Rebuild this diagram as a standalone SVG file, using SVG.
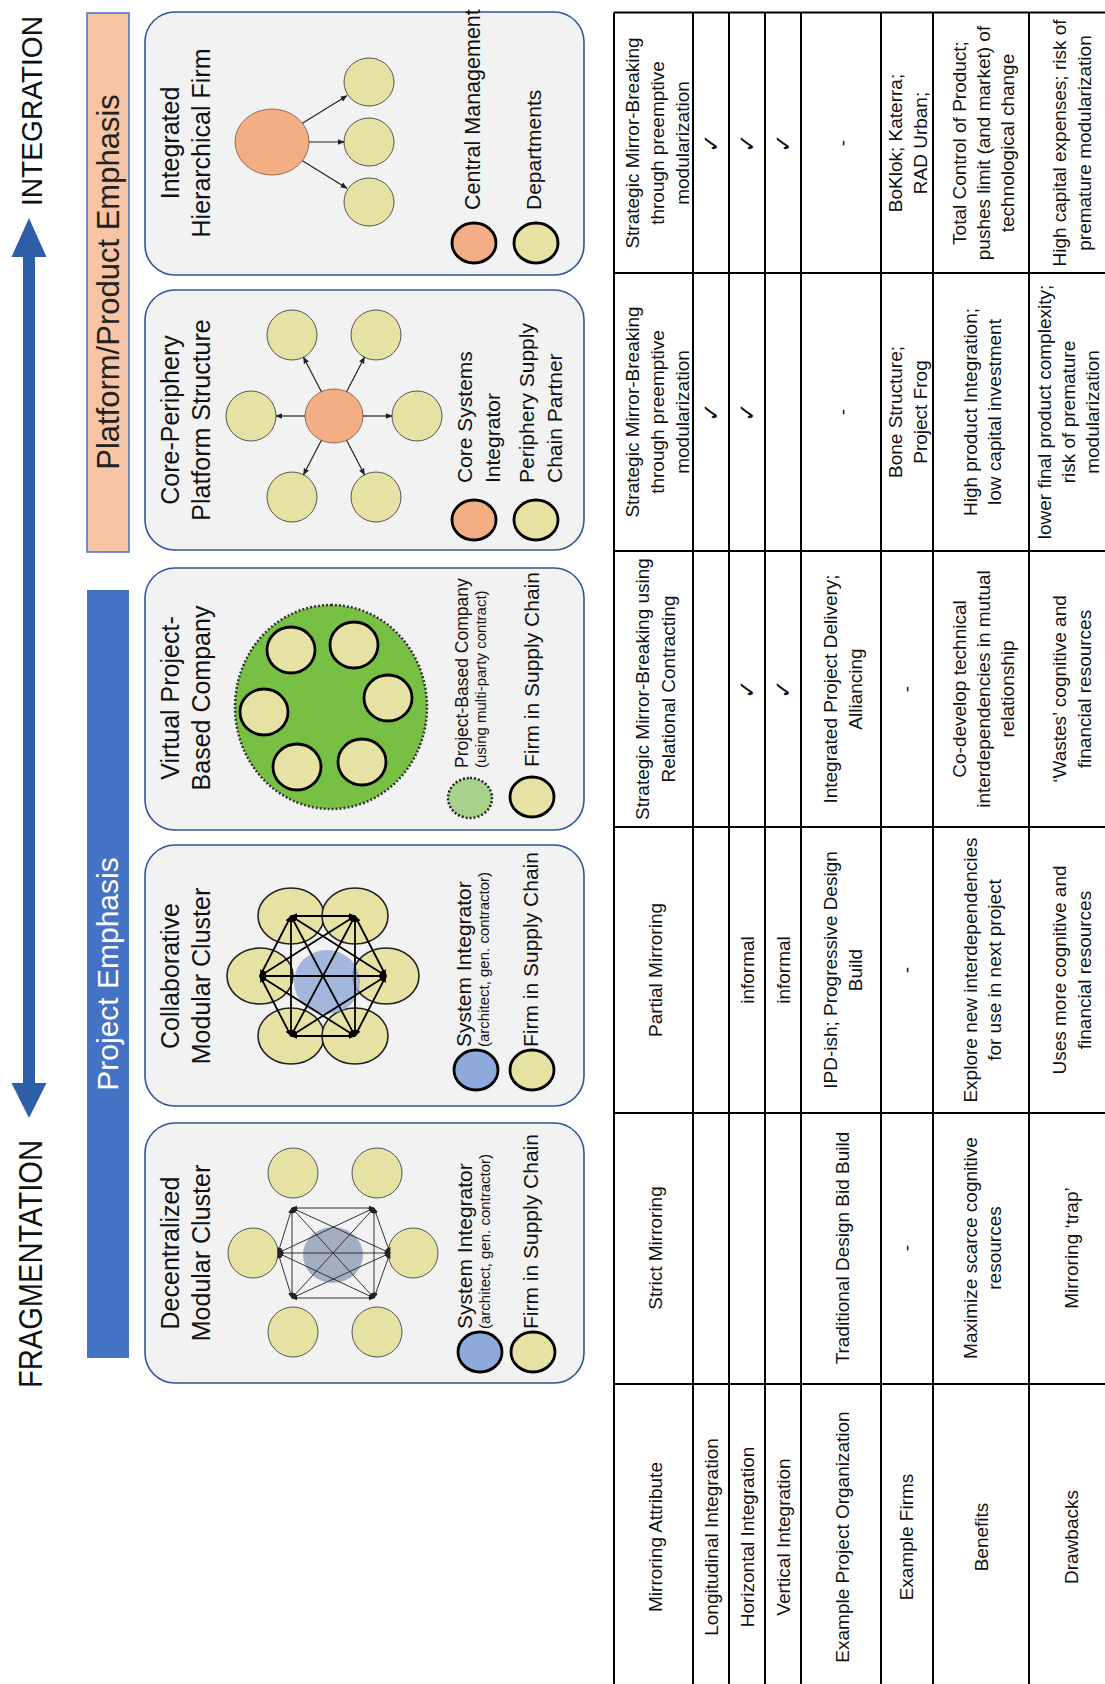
<svg xmlns="http://www.w3.org/2000/svg" width="1105" height="1684" viewBox="0 0 1105 1684">
<defs>
<style>
.t{font-family:"Liberation Sans",Arial,sans-serif;fill:#111}
.title{font-size:25px;text-anchor:middle}
.leg{font-size:21px}
.legs{font-size:15px}
.cell{font-size:19px;text-anchor:middle;font-family:"Liberation Sans",Arial,sans-serif;fill:#111}
.chk{font-size:23px;text-anchor:middle;font-family:"DejaVu Sans",sans-serif;fill:#111}
.card{fill:#F2F2F2;stroke:#2F5597;stroke-width:1.6}
.yel{fill:#E6E2A4;stroke:#555;stroke-width:1}
.yelb{fill:#E6E2A4;stroke:#222;stroke-width:1.6}
.yelk{fill:#E6E2A4;stroke:#000;stroke-width:2.8}
.org{fill:#F4AE85;stroke:#9a6a50;stroke-width:1}
.orgk{fill:#F4AE85;stroke:#000;stroke-width:2.8}
.bluk{fill:#8EA9DB;stroke:#000;stroke-width:2.8}
.arr{stroke:#222;stroke-width:1.2;fill:none;marker-end:url(#ah)}
.k4{stroke:#000;stroke-width:1.8;fill:none;marker-start:url(#ak);marker-end:url(#ak)}
.k5{stroke:#333;stroke-width:1;fill:none;marker-start:url(#ak5);marker-end:url(#ak5)}
.grid{stroke:#000;stroke-width:2;fill:none}
</style>
<marker id="ah" viewBox="0 0 10 10" refX="9" refY="5" markerWidth="7" markerHeight="7" markerUnits="userSpaceOnUse" orient="auto-start-reverse"><path d="M0,1 L10,5 L0,9 z" fill="#222"/></marker>
<marker id="ak" viewBox="0 0 10 10" refX="9" refY="5" markerWidth="7" markerHeight="7" markerUnits="userSpaceOnUse" orient="auto-start-reverse"><path d="M0,1 L10,5 L0,9 z" fill="#000"/></marker>
<marker id="ak5" viewBox="0 0 10 10" refX="9" refY="5" markerWidth="6" markerHeight="6" markerUnits="userSpaceOnUse" orient="auto-start-reverse"><path d="M0,1 L10,5 L0,9 z" fill="#222"/></marker>
</defs>
<rect width="1105" height="1684" fill="#fff"/>
<g transform="translate(0,1684) rotate(-90)">

<!-- header -->
<g id="axis">
<text class="t" x="296" y="42" font-size="33" textLength="248" lengthAdjust="spacingAndGlyphs">FRAGMENTATION</text>
<text class="t" x="1478" y="42" font-size="29" textLength="190" lengthAdjust="spacingAndGlyphs">INTEGRATION</text>
<g fill="#2F5EA8">
<rect x="600" y="23" width="828" height="12"/>
<polygon points="566,29 601,11.5 601,46.5"/>
<polygon points="1466,29 1427,11.5 1427,46.5"/>
</g>
</g>

<g id="bar-project">
<rect x="326" y="87" width="768" height="42" fill="#4472C4"/>
<text class="t" x="710" y="118" font-size="30" text-anchor="middle" style="fill:#fff">Project Emphasis</text>
</g>
<g id="bar-platform">
<rect x="1132" y="87" width="539" height="42" fill="#F7C4A5" stroke="#4472C4" stroke-width="1.5"/>
<text class="t" x="1402" y="119" font-size="31" text-anchor="middle" style="fill:#222">Platform/Product Emphasis</text>
</g>

<!-- card 5: Decentralized -->
<g id="card-decentralized">
<rect class="card" x="301" y="145" width="260" height="439" rx="30"/>
<text class="t title" x="431" y="179">Decentralized</text>
<text class="t title" x="431" y="210">Modular Cluster</text>
<ellipse cx="429" cy="333" rx="28" ry="30" fill="#8E9CB6" opacity="0.8"/>
<ellipse class="yel" cx="511" cy="293" rx="25" ry="25"/>
<ellipse class="yel" cx="511" cy="377" rx="25" ry="25"/>
<ellipse class="yel" cx="431" cy="253" rx="25" ry="25"/>
<ellipse class="yel" cx="431" cy="413" rx="25" ry="25"/>
<ellipse class="yel" cx="352" cy="293" rx="25" ry="25"/>
<ellipse class="yel" cx="352" cy="377" rx="25" ry="25"/>
<ellipse class="bluk" cx="332" cy="480" rx="20" ry="22"/>
<ellipse class="yelk" cx="332" cy="533" rx="20" ry="22"/>
<text class="t leg" x="355" y="472">System Integrator</text>
<text class="t legs" x="355" y="490">(architect, gen. contractor)</text>
<text class="t leg" x="355" y="538">Firm in Supply Chain</text>
</g>

<!-- card 4: Collaborative -->
<g id="card-collaborative">
<rect class="card" x="578" y="145" width="261" height="439" rx="30"/>
<text class="t title" x="708" y="179">Collaborative</text>
<text class="t title" x="708" y="210">Modular Cluster</text>
<ellipse class="yelb" cx="768" cy="291" rx="28" ry="33"/>
<ellipse class="yelb" cx="768" cy="355" rx="28" ry="33"/>
<ellipse class="yelb" cx="648" cy="291" rx="28" ry="33"/>
<ellipse class="yelb" cx="648" cy="355" rx="28" ry="33"/>
<ellipse class="yelb" cx="708" cy="260" rx="28" ry="33"/>
<ellipse class="yelb" cx="708" cy="386" rx="28" ry="33"/>
<ellipse cx="702" cy="327" rx="32" ry="33" fill="#8EA6D6" opacity="0.8"/>
<ellipse class="bluk" cx="614" cy="476" rx="20" ry="22"/>
<ellipse class="yelk" cx="614" cy="532" rx="20" ry="22"/>
<text class="t leg" x="637" y="471">System Integrator</text>
<text class="t legs" x="637" y="489">(architect, gen. contractor)</text>
<text class="t leg" x="637" y="538">Firm in Supply Chain</text>
</g>

<!-- card 3: Virtual -->
<g id="card-virtual">
<rect class="card" x="854" y="145" width="262" height="439" rx="30"/>
<text class="t title" x="986" y="179">Virtual Project-</text>
<text class="t title" x="986" y="210">Based Company</text>
<ellipse cx="977" cy="331" rx="102" ry="96" fill="#78C043" stroke="#333" stroke-width="2.5" stroke-dasharray="2 2"/>
<ellipse class="yelk" cx="1034" cy="291" rx="23" ry="24"/>
<ellipse class="yelk" cx="1039" cy="354" rx="23" ry="24"/>
<ellipse class="yelk" cx="972" cy="264" rx="23" ry="24"/>
<ellipse class="yelk" cx="986" cy="388" rx="23" ry="24"/>
<ellipse class="yelk" cx="917" cy="297" rx="23" ry="24"/>
<ellipse class="yelk" cx="922" cy="362" rx="23" ry="24"/>
<ellipse cx="886" cy="470" rx="20" ry="22" fill="#A9D18E" stroke="#222" stroke-width="2.5" stroke-dasharray="2 2"/>
<ellipse class="yelk" cx="887" cy="532" rx="20" ry="22"/>
<text class="t" x="916" y="468" font-size="17.5">Project-Based Company</text>
<text class="t" x="916" y="486" font-size="15">(using multi-party contract)</text>
<text class="t leg" x="917" y="539">Firm in Supply Chain</text>
</g>

<!-- card 2: Core-Periphery -->
<g id="card-coreperiphery">
<rect class="card" x="1134" y="145" width="260" height="439" rx="30"/>
<text class="t title" x="1264" y="179">Core-Periphery</text>
<text class="t title" x="1264" y="210">Platform Structure</text>
<ellipse class="org" cx="1268" cy="334" rx="27" ry="29"/>
<ellipse class="yel" cx="1268" cy="251" rx="25" ry="25"/>
<ellipse class="yel" cx="1268" cy="417" rx="25" ry="25"/>
<ellipse class="yel" cx="1349" cy="292" rx="25" ry="25"/>
<ellipse class="yel" cx="1349" cy="376" rx="25" ry="25"/>
<ellipse class="yel" cx="1187" cy="292" rx="25" ry="25"/>
<ellipse class="yel" cx="1187" cy="376" rx="25" ry="25"/>
<ellipse class="orgk" cx="1164" cy="474" rx="20" ry="22"/>
<ellipse class="yelk" cx="1164" cy="536" rx="20" ry="22"/>
<text class="t leg" x="1201" y="472">Core Systems</text>
<text class="t leg" x="1201" y="500">Integrator</text>
<text class="t leg" x="1201" y="534">Periphery Supply</text>
<text class="t leg" x="1201" y="562">Chain Partner</text>
</g>

<!-- card 1: Integrated -->
<g id="card-integrated">
<rect class="card" x="1409" y="145" width="263" height="439" rx="30"/>
<text class="t title" x="1541" y="179">Integrated</text>
<text class="t title" x="1541" y="210">Hierarchical Firm</text>
<ellipse class="org" cx="1542" cy="272" rx="33" ry="37"/>
<ellipse class="yel" cx="1602" cy="369" rx="24" ry="25"/>
<ellipse class="yel" cx="1542" cy="369" rx="24" ry="25"/>
<ellipse class="yel" cx="1482" cy="369" rx="24" ry="25"/>
<ellipse class="orgk" cx="1441" cy="474" rx="20" ry="22"/>
<ellipse class="yelk" cx="1441" cy="536" rx="20" ry="22"/>
<text class="t" x="1474" y="480" font-size="21.5">Central Management</text>
<text class="t leg" x="1474" y="541">Departments</text>
</g>

<!-- connectors -->
<g id="connectors">
<line class="arr" x1="1560.8" y1="302.4" x2="1588.3" y2="346.9"/>
<line class="arr" x1="1542" y1="309" x2="1542" y2="344"/>
<line class="arr" x1="1523.2" y1="302.4" x2="1495.7" y2="346.9"/>
<line class="arr" x1="1268" y1="305" x2="1268" y2="276"/>
<line class="arr" x1="1268" y1="363" x2="1268" y2="392"/>
<line class="arr" x1="1292.3" y1="321.4" x2="1326.8" y2="303.5"/>
<line class="arr" x1="1292.3" y1="346.6" x2="1326.8" y2="364.5"/>
<line class="arr" x1="1243.7" y1="321.4" x2="1209.2" y2="303.5"/>
<line class="arr" x1="1243.7" y1="346.6" x2="1209.2" y2="364.5"/>
<g>
<line class="k4" x1="768" y1="291" x2="768" y2="355"/>
<line class="k4" x1="768" y1="291" x2="708" y2="260"/>
<line class="k4" x1="768" y1="291" x2="708" y2="386"/>
<line class="k4" x1="768" y1="291" x2="648" y2="291"/>
<line class="k4" x1="768" y1="291" x2="648" y2="355"/>
<line class="k4" x1="768" y1="355" x2="708" y2="260"/>
<line class="k4" x1="768" y1="355" x2="708" y2="386"/>
<line class="k4" x1="768" y1="355" x2="648" y2="291"/>
<line class="k4" x1="768" y1="355" x2="648" y2="355"/>
<line class="k4" x1="708" y1="260" x2="708" y2="386"/>
<line class="k4" x1="708" y1="260" x2="648" y2="291"/>
<line class="k4" x1="708" y1="260" x2="648" y2="355"/>
<line class="k4" x1="708" y1="386" x2="648" y2="291"/>
<line class="k4" x1="708" y1="386" x2="648" y2="355"/>
<line class="k4" x1="648" y1="291" x2="648" y2="355"/>
</g>
<g>
<line class="k5" x1="476" y1="292" x2="476" y2="374"/>
<line class="k5" x1="476" y1="292" x2="431" y2="278"/>
<line class="k5" x1="476" y1="292" x2="431" y2="390"/>
<line class="k5" x1="476" y1="292" x2="386" y2="292"/>
<line class="k5" x1="476" y1="292" x2="386" y2="374"/>
<line class="k5" x1="476" y1="374" x2="431" y2="278"/>
<line class="k5" x1="476" y1="374" x2="431" y2="390"/>
<line class="k5" x1="476" y1="374" x2="386" y2="292"/>
<line class="k5" x1="476" y1="374" x2="386" y2="374"/>
<line class="k5" x1="431" y1="278" x2="431" y2="390"/>
<line class="k5" x1="431" y1="278" x2="386" y2="292"/>
<line class="k5" x1="431" y1="278" x2="386" y2="374"/>
<line class="k5" x1="431" y1="390" x2="386" y2="292"/>
<line class="k5" x1="431" y1="390" x2="386" y2="374"/>
<line class="k5" x1="386" y1="292" x2="386" y2="374"/>
</g>
</g>

<!-- table -->
<g id="table">
<rect x="0" y="614" width="1671.5" height="496" fill="#fff"/>
<g class="grid">
<line x1="-10" y1="614" x2="1671.5" y2="614"/>
<line x1="-10" y1="693" x2="1671.5" y2="693"/>
<line x1="-10" y1="729" x2="1671.5" y2="729"/>
<line x1="-10" y1="765" x2="1671.5" y2="765"/>
<line x1="-10" y1="801" x2="1671.5" y2="801"/>
<line x1="-10" y1="881" x2="1671.5" y2="881"/>
<line x1="-10" y1="933" x2="1671.5" y2="933"/>
<line x1="-10" y1="1029" x2="1671.5" y2="1029"/>
<line x1="-10" y1="1110" x2="1671.5" y2="1110"/>
<line x1="1671.5" y1="614" x2="1671.5" y2="1110"/>
<line x1="1411" y1="614" x2="1411" y2="1110"/>
<line x1="1133" y1="614" x2="1133" y2="1110"/>
<line x1="857" y1="614" x2="857" y2="1110"/>
<line x1="571" y1="614" x2="571" y2="1110"/>
<line x1="300" y1="614" x2="300" y2="1110"/>
</g>
<!-- row 1 -->
<text class="cell" x="147" y="662">Mirroring Attribute</text>
<text class="cell" x="436" y="662">Strict Mirroring</text>
<text class="cell" x="714" y="662">Partial Mirroring</text>
<text class="cell" x="995" y="649">Strategic Mirror-Breaking using</text>
<text class="cell" x="995" y="675">Relational Contracting</text>
<text class="cell" x="1272" y="639">Strategic Mirror-Breaking</text>
<text class="cell" x="1272" y="664">through preemptive</text>
<text class="cell" x="1272" y="689">modularization</text>
<text class="cell" x="1541" y="639">Strategic Mirror-Breaking</text>
<text class="cell" x="1541" y="664">through preemptive</text>
<text class="cell" x="1541" y="689">modularization</text>
<!-- row 2 -->
<text class="cell" x="147" y="718">Longitudinal Integration</text>
<text class="chk" x="1272" y="719">✓</text>
<text class="chk" x="1541" y="719">✓</text>
<!-- row 3 -->
<text class="cell" x="147" y="754">Horizontal Integration</text>
<text class="cell" x="714" y="754">informal</text>
<text class="chk" x="995" y="755">✓</text>
<text class="chk" x="1272" y="755">✓</text>
<text class="chk" x="1541" y="755">✓</text>
<!-- row 4 -->
<text class="cell" x="147" y="790">Vertical Integration</text>
<text class="cell" x="714" y="790">informal</text>
<text class="chk" x="995" y="791">✓</text>
<text class="chk" x="1541" y="791">✓</text>
<!-- row 5 -->
<text class="cell" x="147" y="849">Example Project Organization</text>
<text class="cell" x="436" y="849">Traditional Design Bid Build</text>
<text class="cell" x="714" y="837">IPD-ish; Progressive Design</text>
<text class="cell" x="714" y="862">Build</text>
<text class="cell" x="995" y="837">Integrated Project Delivery;</text>
<text class="cell" x="995" y="862">Alliancing</text>
<text class="cell" x="1272" y="849">-</text>
<text class="cell" x="1541" y="849">-</text>
<!-- row 6 -->
<text class="cell" x="147" y="913">Example Firms</text>
<text class="cell" x="436" y="913">-</text>
<text class="cell" x="714" y="913">-</text>
<text class="cell" x="995" y="913">-</text>
<text class="cell" x="1272" y="902">Bone Structure;</text>
<text class="cell" x="1272" y="927">Project Frog</text>
<text class="cell" x="1541" y="902">BoKlok; Katerra;</text>
<text class="cell" x="1541" y="927">RAD Urban;</text>
<!-- row 7 -->
<text class="cell" x="147" y="988">Benefits</text>
<text class="cell" x="436" y="977">Maximize scarce cognitive</text>
<text class="cell" x="436" y="1001">resources</text>
<text class="cell" x="714" y="977">Explore new interdependencies</text>
<text class="cell" x="714" y="1001">for use in next project</text>
<text class="cell" x="995" y="966">Co-develop technical</text>
<text class="cell" x="995" y="990">interdependencies in mutual</text>
<text class="cell" x="995" y="1014">relationship</text>
<text class="cell" x="1272" y="977">High product Integration;</text>
<text class="cell" x="1272" y="1001">low capital investment</text>
<text class="cell" x="1541" y="966">Total Control of Product;</text>
<text class="cell" x="1541" y="990">pushes limit (and market) of</text>
<text class="cell" x="1541" y="1014">technological change</text>
<!-- row 8 -->
<text class="cell" x="147" y="1078">Drawbacks</text>
<text class="cell" x="436" y="1078">Mirroring ‘trap’</text>
<text class="cell" x="714" y="1066">Uses more cognitive and</text>
<text class="cell" x="714" y="1091">financial resources</text>
<text class="cell" x="995" y="1066">‘Wastes’ cognitive and</text>
<text class="cell" x="995" y="1091">financial resources</text>
<text class="cell" x="1272" y="1051">lower final product complexity;</text>
<text class="cell" x="1272" y="1075">risk of premature</text>
<text class="cell" x="1272" y="1099">modularization</text>
<text class="cell" x="1541" y="1066">High capital expenses; risk of</text>
<text class="cell" x="1541" y="1091">premature modularization</text>
</g>

</g>
</svg>
